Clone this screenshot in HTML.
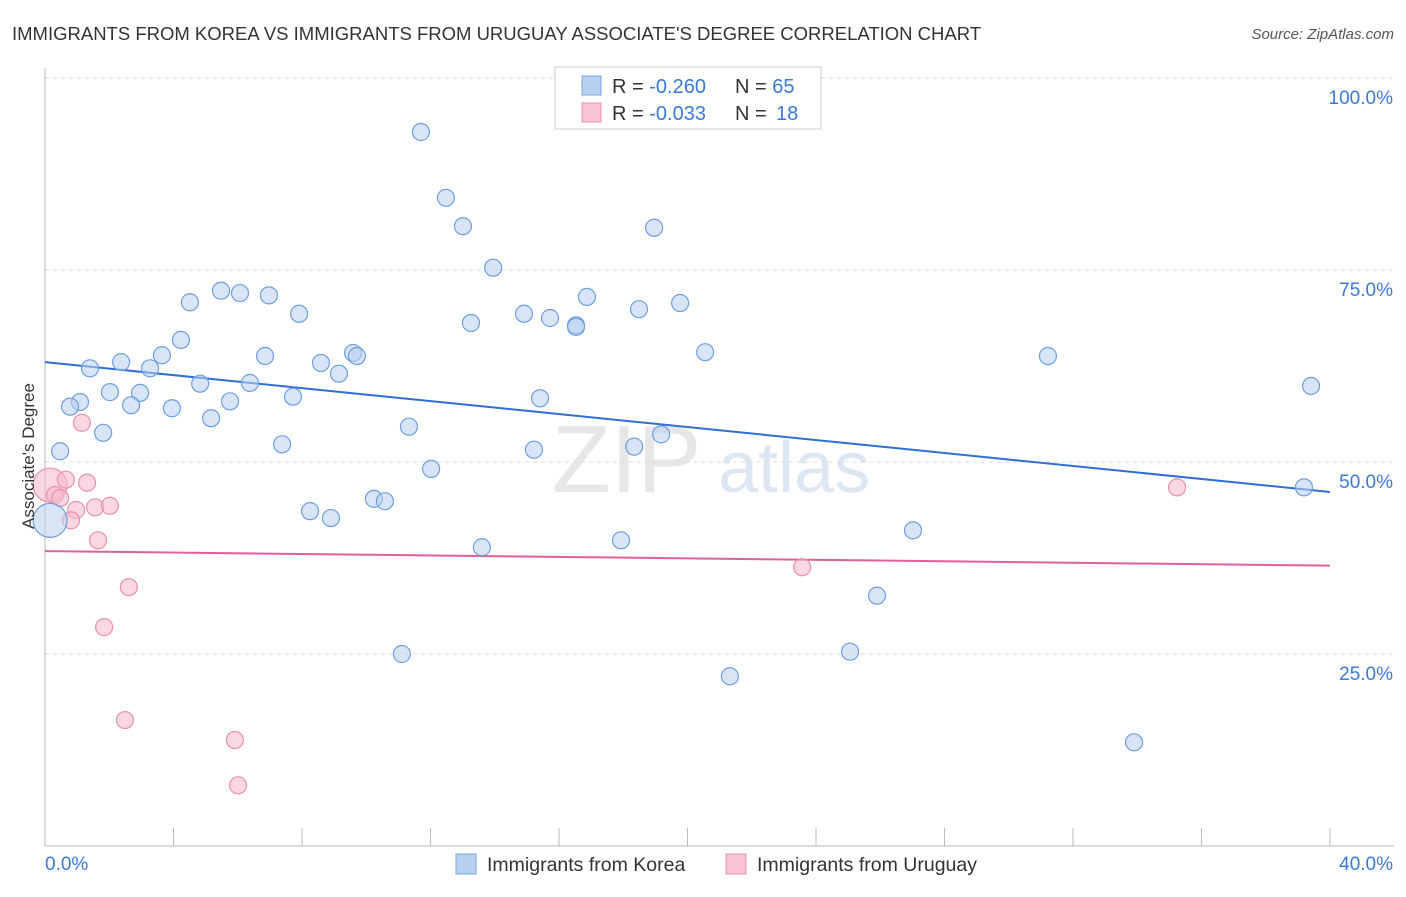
<!DOCTYPE html>
<html><head><meta charset="utf-8"><style>
body{margin:0;background:#fff;font-family:"Liberation Sans",sans-serif;}
svg text{font-family:"Liberation Sans",sans-serif;}
</style></head><body>
<svg id="chart" width="1406" height="892" xmlns="http://www.w3.org/2000/svg">
<text x="12" y="40" font-size="18.5" fill="#333">IMMIGRANTS FROM KOREA VS IMMIGRANTS FROM URUGUAY ASSOCIATE'S DEGREE CORRELATION CHART</text>
<text x="1394" y="39" font-size="15" fill="#555" text-anchor="end" font-style="italic">Source: ZipAtlas.com</text>
<g><text x="552" y="492" font-size="96" fill="#ddd" font-family="Liberation Serif" opacity="0.7">ZIP</text><text x="718" y="492" font-size="72" fill="#c8d8ee" opacity="0.6">atlas</text></g>
<g id="grid"></g><g id="axes"></g><g id="trend"></g><g id="pts"></g>
<text transform="translate(34,456) rotate(-90)" font-size="17" fill="#333" text-anchor="middle">Associate's Degree</text>
<g>
<rect x="555" y="67" width="266" height="62" fill="#fff" stroke="#ccc"/>
<rect x="582" y="76" width="19" height="19" fill="#b8d0f0" stroke="#7aa6e0"/>
<rect x="582" y="103" width="19" height="19" fill="#f8c4d4" stroke="#e890aa"/>
<text x="612" y="93" font-size="20" fill="#333">R = <tspan fill="#3b78d8">-0.260</tspan></text>
<text x="735" y="93" font-size="20" fill="#333">N = <tspan fill="#3b78d8">65</tspan></text>
<text x="612" y="120" font-size="20" fill="#333">R = <tspan fill="#3b78d8">-0.033</tspan></text>
<text x="735" y="120" font-size="20" fill="#333">N =</text>
<text x="776" y="120" font-size="20" fill="#3b78d8">18</text>
</g>
<g>
<rect x="456" y="854" width="20" height="20" fill="#b8d0f0" stroke="#7aa6e0"/>
<text x="487" y="871" font-size="19.5" fill="#333">Immigrants from Korea</text>
<rect x="726" y="854" width="20" height="20" fill="#f8c4d4" stroke="#e890aa"/>
<text x="757" y="871" font-size="19.5" fill="#333">Immigrants from Uruguay</text>
</g>
</svg>
<script>
const koreaX=[11.70,12.48,13.01,18.96,13.95,5.48,6.07,6.97,4.51,16.87,18.49,19.77,7.91,14.91,15.72,13.26,16.53,16.53,4.23,9.59,9.71,6.85,20.55,31.22,1.40,2.37,3.64,3.27,8.59,9.15,4.83,6.38,2.02,2.96,1.09,0.78,2.68,3.95,5.76,7.72,15.41,39.41,5.17,1.81,11.33,7.38,18.34,15.22,19.18,0.47,12.02,10.24,10.58,8.25,8.90,27.02,17.93,13.60,39.19,25.90,11.11,25.06,21.32,33.90,0.16];
const koreaY=[92.97,84.4,80.7,80.5,75.3,72.3,72.0,71.7,70.8,71.5,69.9,70.7,69.3,69.3,68.75,68.1,67.8,67.6,65.9,64.2,63.8,63.8,64.3,63.8,62.2,63.0,63.9,62.2,62.9,61.5,60.2,60.3,59.1,59.0,57.8,57.2,57.4,57.0,57.9,58.5,58.3,59.9,55.7,53.8,54.6,52.3,52.0,51.6,53.6,51.4,49.1,45.2,44.9,43.6,42.7,41.1,39.8,38.9,46.7,32.6,25.0,25.3,22.1,13.5,42.4];
const uruX=[0.16,0.31,0.65,0.47,1.31,1.15,0.97,1.56,2.02,0.81,1.65,2.61,1.84,2.49,5.91,6.01,23.57,35.24];
const uruY=[47.0,45.7,47.7,45.3,47.3,55.1,43.75,44.1,44.3,42.4,39.8,33.7,28.5,16.4,13.8,7.9,36.3,46.7];
const koreaTrend=[63.0,46.1];
const uruTrend=[38.4,36.5];
const yTicks=[25,50,75,100];
const yTickLabels=["25.0%","50.0%","75.0%","100.0%"];
const xTicks=[0,4,8,12,16,20,24,28,32,36,40];
const NS="http://www.w3.org/2000/svg";
const sx=v=>45+v/40*1285, sy=v=>846-v*7.68;
function mk(tag,attrs,parent){const e=document.createElementNS(NS,tag);for(const k in attrs)e.setAttribute(k,attrs[k]);parent.appendChild(e);return e;}
const grid=document.getElementById('grid'),axes=document.getElementById('axes'),trend=document.getElementById('trend'),pts=document.getElementById('pts');
yTicks.forEach((t,i)=>{
 const l=mk('line',{x1:45,x2:1394,y1:sy(t),y2:sy(t),stroke:'#ddd','stroke-dasharray':'4,4'},grid);
 
 
 const tx=mk('text',{x:1393,y:sy(t)+26,'font-size':19,fill:'#3b78d8','text-anchor':'end'},axes);
 tx.textContent=yTickLabels[i];
 
 
});
const ax=mk('line',{x1:45,x2:1394,y1:846,y2:846,stroke:'#bbb'},axes);


const ay=mk('line',{x1:45,x2:45,y1:68,y2:846,stroke:'#bbb'},axes);


xTicks.forEach(t=>{
 const l=mk('line',{x1:sx(t),x2:sx(t),y1:828,y2:846,stroke:'#bbb'},axes);
 
 
});
const x0=mk('text',{x:45,y:870,'font-size':19,fill:'#3b78d8'},axes);x0.textContent='0.0%';


const x1=mk('text',{x:1393,y:870,'font-size':19,fill:'#3b78d8','text-anchor':'end'},axes);x1.textContent='40.0%';


function dots(X,Y,fill,stroke,name){X.forEach((x,i)=>{const big=(i===X.length-1&&name==='korea-point')||(i===0&&name==='uruguay-point');
 const c=mk('circle',{cx:sx(x),cy:sy(Y[i]),r:big?17:8.5,fill:fill,'fill-opacity':0.55,stroke:stroke,'stroke-width':1.2},pts);
 
 });}
dots(uruX,uruY,'#f5b8cc','#e890aa','uruguay-point');
dots(koreaX,koreaY,'#b8d0f0','#6f9edc','korea-point');
const t1=mk('line',{x1:sx(0),x2:sx(40),y1:sy(koreaTrend[0]),y2:sy(koreaTrend[1]),stroke:'#2f6fd6','stroke-width':2},trend);


const t2=mk('line',{x1:sx(0),x2:sx(40),y1:sy(uruTrend[0]),y2:sy(uruTrend[1]),stroke:'#e0609a','stroke-width':2},trend);


</script>
</body></html>
